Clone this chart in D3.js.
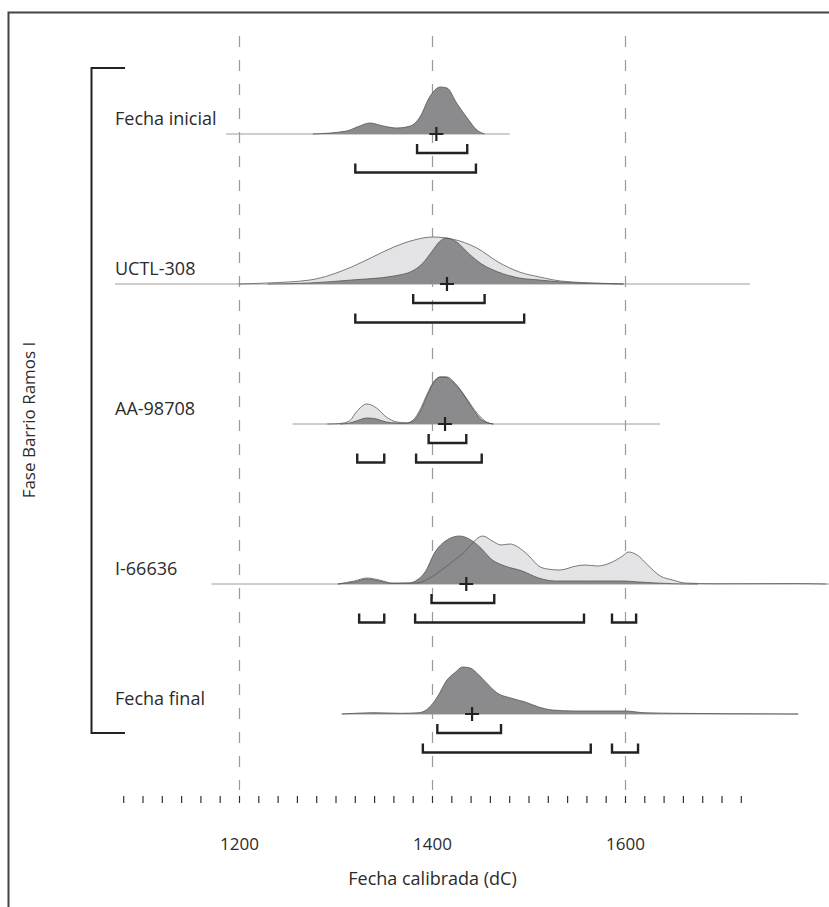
<!DOCTYPE html>
<html>
<head>
<meta charset="utf-8">
<script src="https://cdn.jsdelivr.net/npm/d3@7"></script>
<style>
  html, body { margin: 0; padding: 0; background: #fff; }
  svg text { font-family: "Open Sans", "Noto Sans", sans-serif; fill: #2b2b2b; }
</style>
</head>
<body>
<div id="chart"></div>
<script>
// ---------------- DATA ----------------
const labels = ["Fecha inicial", "UCTL-308", "AA-98708", "I-66636", "Fecha final"];
const groupLabel = "Fase Barrio Ramos I";
const axisTitle = "Fecha calibrada (dC)";
const tickLabels = [1200, 1400, 1600];
const gridYears = [1200, 1400, 1600];
const minorTicks = d3.range(1080, 1721, 20);

// extent of each row's base line (years)
const lineSpans = [[1186, 1480], [1071, 1729], [1255, 1636], [1171, 1812], [1306, 1779]];

// unmodelled (light) likelihoods [year, relative probability]
const priorInicial = null;
const priorUCTL = [[1199,0],[1229,1],[1273,4],[1316,17],[1338,27],[1360,37],[1381,44],[1400,47],[1420,45],[1446,36],[1468,22],[1490,12],[1511,7],[1533,3],[1576,0.7],[1598,0]];
const priorAA = [[1291,0],[1304,0.5],[1314,3],[1321,12],[1332,20],[1342,16],[1352,7],[1363,2],[1373,1],[1380,4],[1387,14],[1394,29],[1401,42],[1408,47],[1415,47],[1425,39],[1435,26],[1446,11],[1456,2],[1463,0]];
const priorI = [[1302,0],[1319,3],[1332,6],[1345,4],[1358,1],[1384,1],[1397,6],[1415,18],[1432,31],[1452,48],[1462,43],[1471,39],[1480,40],[1493,34],[1501,27],[1510,18],[1519,15],[1532,14],[1549,18],[1558,19],[1571,18],[1584,21],[1597,28],[1603,32],[1612,29],[1623,19],[1636,8],[1649,4],[1662,1],[1692,0.3],[1779,0.5],[1808,0]];
const priorFinal = null;

// modelled (dark) posteriors
const postInicial = [[1276,0],[1311,3],[1322,7],[1335,11],[1349,8],[1363,6],[1377,8],[1387,17],[1397,37],[1408,47],[1415,46],[1425,31],[1436,16],[1446,4],[1454,0]];
const postUCTL = [[1229,0],[1273,1],[1316,4],[1360,8],[1381,14],[1390,21],[1399,32],[1407,42],[1414,46],[1425,42],[1438,30],[1451,20],[1468,12],[1490,6],[1511,4],[1533,2],[1576,0.3],[1598,0]];
const postAA = [[1304,0],[1314,1],[1321,3],[1332,6],[1342,5],[1352,2],[1363,1],[1373,1],[1380,3],[1387,12],[1394,27],[1401,41],[1408,47],[1413,47],[1421,42],[1431,31],[1441,16],[1451,4],[1458,1],[1463,0]];
const postI = [[1302,0],[1319,2],[1332,5],[1345,3],[1358,0.5],[1376,1],[1384,4],[1393,13],[1402,31],[1415,44],[1428,48],[1436,46],[1449,37],[1462,24],[1475,18],[1493,13],[1510,6],[1527,3],[1562,3],[1597,3],[1614,2],[1649,0.3],[1675,0]];
const postFinal = [[1306,0],[1320,0.7],[1339,1.3],[1367,0.7],[1386,1.3],[1396,6],[1405,17],[1415,34],[1424,42],[1431,47],[1439,46],[1448,39],[1458,29],[1467,21],[1481,16],[1496,12],[1510,7],[1524,4],[1548,3],[1581,3],[1600,3],[1619,1.3],[1652,0.7],[1700,0.3],[1779,0]];

const priors = [priorInicial, priorUCTL, priorAA, priorI, priorFinal];
const posteriors = [postInicial, postUCTL, postAA, postI, postFinal];

// mean (cross) and highest posterior density ranges
const means = [1404, 1415, 1413, 1435, 1441];
const range68 = [[[1384, 1436]], [[1380, 1454]], [[1396, 1435]], [[1399, 1464]], [[1405, 1471]]];
const range95 = [
  [[1320, 1445]],
  [[1320, 1495]],
  [[1322, 1350], [1383, 1451]],
  [[1324, 1350], [1382, 1557], [1586, 1611]],
  [[1390, 1564], [1586, 1613]]
];

// ---------------- LAYOUT ----------------
const W = 829, H = 907;
const rowBaseY = [134, 284, 424, 584, 714];
const svg = d3.select("#chart").append("svg").attr("width", W).attr("height", H);

const x = d3.scaleLinear().domain([1200, 1600]).range([239.5, 625.5]);
const hScale = d3.scaleLinear().domain([0, 50]).range([0, 50]);

// frame (top and left edges)
svg.append("path").attr("d", `M8.5,${H} V12.5 H${W}`)
  .attr("fill", "none").attr("stroke", "#444").attr("stroke-width", 2);

// dashed grid lines
svg.append("g").selectAll("line").data(gridYears).join("line")
  .attr("x1", d => x(d)).attr("x2", d => x(d))
  .attr("y1", 36).attr("y2", 790)
  .attr("stroke", "#9a9a9a").attr("stroke-width", 1.2)
  .attr("stroke-dasharray", "11,13");

// group bracket
svg.append("path").attr("d", "M125,68 H91.5 V733 H125")
  .attr("fill", "none").attr("stroke", "#222").attr("stroke-width", 2);
svg.append("text")
  .attr("transform", "translate(35,420) rotate(-90)")
  .attr("text-anchor", "middle").attr("font-size", 17)
  .text(groupLabel);

const area = (base) => d3.area()
  .x(d => x(d[0])).y0(base).y1(d => base - hScale(d[1]))
  .curve(d3.curveMonotoneX);
const line = (base) => d3.line()
  .x(d => x(d[0])).y(d => base - hScale(d[1]))
  .curve(d3.curveMonotoneX);

labels.forEach((lab, i) => {
  const base = rowBaseY[i];
  const g = svg.append("g");
  // base line
  g.append("line")
    .attr("x1", x(lineSpans[i][0])).attr("x2", x(lineSpans[i][1]))
    .attr("y1", base).attr("y2", base)
    .attr("stroke", "#9c9c9c").attr("stroke-width", 1);
  const pr = priors[i], po = posteriors[i];
  if (pr) g.append("path").datum(pr).attr("d", area(base)).attr("fill", "#e4e4e6");
  g.append("path").datum(po).attr("d", area(base)).attr("fill", "#8b8b8d");
  if (pr) g.append("path").datum(pr).attr("d", line(base))
    .attr("fill", "none").attr("stroke", "#5a5a5a").attr("stroke-width", 0.8);
  g.append("path").datum(po).attr("d", line(base))
    .attr("fill", "none").attr("stroke", "#555").attr("stroke-width", 0.8);

  // label
  g.append("text").attr("x", 115).attr("y", base - 9)
    .attr("font-size", 18).text(lab);

  // mean cross
  const cx = x(means[i]);
  g.append("path").attr("d", `M${cx - 7},${base} H${cx + 7} M${cx},${base - 7} V${base + 7}`)
    .attr("stroke", "#222").attr("stroke-width", 2.2);

  // brackets
  const bracket = (r, yy) => {
    g.append("path")
      .attr("d", `M${x(r[0])},${yy - 9} V${yy} H${x(r[1])} V${yy - 9}`)
      .attr("fill", "none").attr("stroke", "#222").attr("stroke-width", 2.4);
  };
  range68[i].forEach(r => bracket(r, base + 19));
  range95[i].forEach(r => bracket(r, base + 38.5));
});

// bottom axis ticks
svg.append("g").selectAll("line").data(minorTicks).join("line")
  .attr("x1", d => x(d)).attr("x2", d => x(d))
  .attr("y1", 796).attr("y2", 803)
  .attr("stroke", "#333").attr("stroke-width", 1.2);
svg.append("g").selectAll("text").data(tickLabels).join("text")
  .attr("x", d => x(d)).attr("y", 850)
  .attr("text-anchor", "middle").attr("font-size", 17)
  .text(d => d);
svg.append("text").attr("x", x(1400)).attr("y", 885)
  .attr("text-anchor", "middle").attr("font-size", 18)
  .text(axisTitle);
</script>
</body>
</html>
